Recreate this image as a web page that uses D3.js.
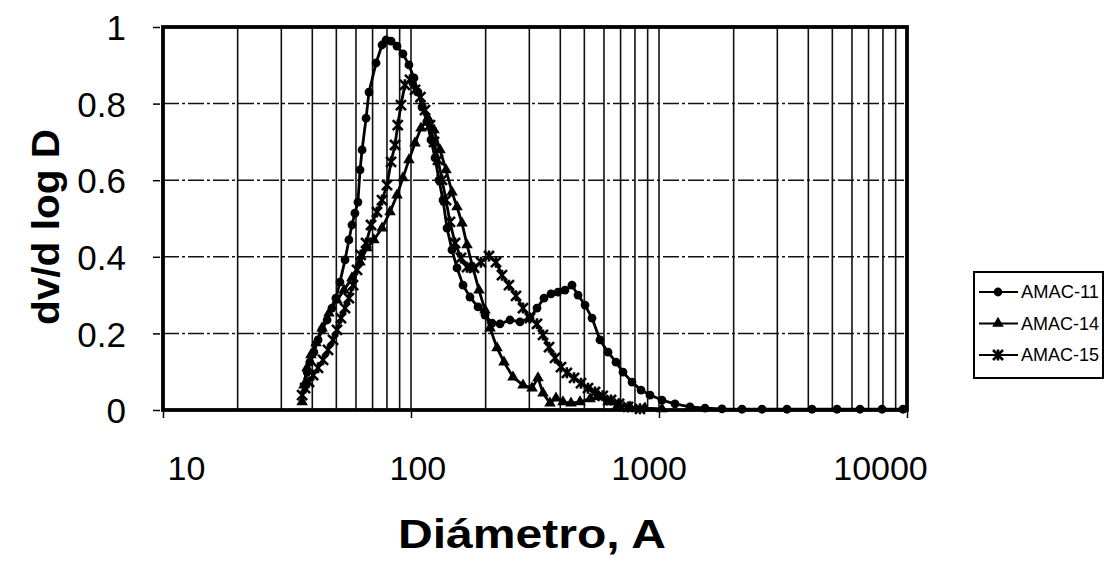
<!DOCTYPE html>
<html><head><meta charset="utf-8">
<script src="https://cdn.jsdelivr.net/npm/d3@7"></script>
<style>body{margin:0;background:#fff} svg{display:block}</style>
</head><body><svg id="c" width="1109" height="562"></svg>
<script>
// ---------- data ----------
const seriesNames = ["AMAC-11", "AMAC-14", "AMAC-15"];
const xTickValues = [10, 100, 1000, 10000];
const yTickValues = [0, 0.2, 0.4, 0.6, 0.8, 1];

const amac11D = [37.4,38.1,39.1,40.6,42.2,43.8,45.9,48.0,49.8,51.7,54.2,56.2,57.8,59.4,61.1,62.3,63.5,65.9,67.7,72.3,76.4,79.3,83.1,87.8,92.8,98.1,102.8,106.7,110.8,116.0,120.4,125.0,129.7,134.6,139.7,146.3,153.3,162.1,172.9,186.3,198.8,212.2,228.5,250.7,275.1,301.8,322.1,343.8,366.9,391.5,417.8,445.9,471.5,503.2,537.0,578.2,623.0,670.8,715.8,778.3,846.2,919.7,1028,1160,1334,1533,1795,2161,2602,3282,4140,5222,6464,7930,9636];
const amac11V = [0.065,0.099,0.125,0.151,0.183,0.209,0.235,0.266,0.292,0.334,0.392,0.444,0.483,0.514,0.543,0.627,0.679,0.762,0.830,0.906,0.953,0.966,0.963,0.950,0.930,0.901,0.867,0.830,0.791,0.752,0.705,0.658,0.600,0.548,0.475,0.418,0.371,0.326,0.295,0.269,0.248,0.227,0.225,0.235,0.230,0.240,0.266,0.292,0.303,0.308,0.313,0.326,0.300,0.274,0.240,0.183,0.151,0.125,0.099,0.073,0.052,0.039,0.026,0.016,0.008,0.005,0.003,0.002,0.002,0.002,0.002,0.002,0.002,0.002,0.002];

const amac14D = [36.4,37.0,38.1,39.5,41.4,43.8,46.7,50.3,53.7,57.8,62.3,66.5,70.9,76.4,82.3,87.8,92.8,98.1,103.8,109.7,117.1,123.8,130.9,138.4,146.3,153.3,160.6,168.2,177.8,188.0,198.8,208.3,222.3,237.1,257.8,282.9,307.5,325.1,340.6,363.5,384.3,410.1,441.7,480.3,527.2,573.0,623.0,683.4,764.0,878,1028];
const amac14V = [0.021,0.065,0.110,0.144,0.175,0.214,0.253,0.287,0.313,0.345,0.386,0.423,0.444,0.475,0.517,0.561,0.606,0.653,0.697,0.736,0.762,0.731,0.679,0.627,0.569,0.530,0.488,0.431,0.371,0.313,0.261,0.214,0.162,0.125,0.086,0.065,0.057,0.084,0.044,0.018,0.031,0.021,0.018,0.021,0.029,0.034,0.021,0.013,0.008,0.005,0.003];

const amac15D = [36.4,37.4,38.8,40.3,42.2,44.2,46.3,48.5,50.3,52.2,54.2,56.2,58.4,60.6,62.7,65.9,69.0,72.9,76.4,80.0,83.1,86.2,88.4,91.1,94.5,99.1,103.8,109.2,113.9,119.3,123.8,128.5,133.4,138.4,143.6,150.5,159.1,168.2,179.5,191.5,206.3,220.2,232.8,248.4,265.1,282.9,301.8,322.1,340.6,360.3,380.8,402.6,425.1,454.3,484.8,517.3,552.1,593.0,640.6,690.0,749.9,838];
const amac15V = [0.039,0.057,0.073,0.091,0.110,0.131,0.157,0.183,0.209,0.240,0.266,0.292,0.326,0.366,0.405,0.436,0.483,0.517,0.548,0.587,0.648,0.692,0.744,0.796,0.849,0.862,0.836,0.817,0.783,0.744,0.700,0.653,0.601,0.548,0.491,0.436,0.397,0.373,0.371,0.386,0.402,0.386,0.352,0.326,0.298,0.266,0.240,0.225,0.196,0.164,0.136,0.112,0.097,0.084,0.070,0.057,0.047,0.037,0.026,0.016,0.008,0.003];

// ---------- layout ----------
const svg = d3.select("#c");
const L = 163, R = 907, T = 27, B = 410;
const x = d3.scaleLog().domain([10, 10000]).range([L, R]);
const y = d3.scaleLinear().domain([0, 1]).range([B, T]);
// tick labels in the scanned original sit slightly inside the decade lines
const xLabel = d3.scalePoint().domain(xTickValues).range([186, 880]);
const font = "'Liberation Sans', Arial, sans-serif";

const series = [
  {name: seriesNames[0], d: amac11D, v: amac11V, marker: "circle"},
  {name: seriesNames[1], d: amac14D, v: amac14V, marker: "triangle"},
  {name: seriesNames[2], d: amac15D, v: amac15V, marker: "star"}
];

// grid
const g = svg.append("g");
const minorX = [];
for (let dec = 10; dec < 10000; dec *= 10) for (let k = 2; k <= 10; k++) minorX.push(dec * k);
g.selectAll("line.vx").data(minorX.filter(v => v < 10000)).enter().append("line")
  .attr("x1", d => x(d)).attr("x2", d => x(d)).attr("y1", T).attr("y2", B)
  .attr("stroke", "#111").attr("stroke-width", 1.6);
g.selectAll("line.hy").data(yTickValues.filter(v => v > 0 && v < 1)).enter().append("line")
  .attr("x1", L).attr("x2", R).attr("y1", d => y(d)).attr("y2", d => y(d))
  .attr("stroke", "#111").attr("stroke-width", 1.5).attr("stroke-dasharray", "16,3,3,3");

// y axis
const yAxis = d3.axisLeft(y).tickValues(yTickValues).tickSize(7).tickPadding(27)
  .tickFormat(d => d === 0 ? "0" : d === 1 ? "1" : d3.format(".1f")(d));
const ya = svg.append("g").attr("transform", `translate(${L - 3},0)`).call(yAxis);
ya.select(".domain").remove();
ya.selectAll("text").attr("font-family", font).attr("font-size", 35).attr("fill", "#000")
  .attr("dy", "0.36em");
ya.selectAll("line").attr("stroke", "#000").attr("stroke-width", 1.5);

// x axis: tick marks at decade lines
const xAxis = d3.axisBottom(x).tickValues(xTickValues).tickSize(6).tickFormat("");
const xa = svg.append("g").attr("transform", `translate(0,${B + 2})`).call(xAxis);
xa.select(".domain").remove();
xa.selectAll("line").attr("stroke", "#000").attr("stroke-width", 1.5);
// x tick labels
const xlAxis = d3.axisBottom(xLabel).tickSize(0).tickPadding(0).tickFormat(d3.format("d"));
const xl = svg.append("g").attr("transform", `translate(0,456)`).call(xlAxis);
xl.select(".domain").remove();
xl.selectAll("text").attr("font-family", font).attr("font-size", 34).attr("fill", "#000")
  .attr("dy", "0.71em");

// plot border
svg.append("rect").attr("x", L).attr("y", T).attr("width", R - L).attr("height", B - T)
  .attr("fill", "none").attr("stroke", "#000").attr("stroke-width", 3.8);

// markers
function drawMarker(sel, type) {
  if (type === "circle") {
    sel.append("circle").attr("r", 4.4).attr("fill", "#000");
  } else if (type === "triangle") {
    sel.append("path").attr("d", d3.symbol(d3.symbolTriangle, 58)()).attr("fill", "#000");
  } else {
    sel.append("path").attr("d", "M-5,-5L5,5M-5,5L5,-5M0,-5.5L0,5.5")
      .attr("stroke", "#000").attr("stroke-width", 2.6).attr("fill", "none");
  }
}

const line = d3.line().x(p => x(p[0])).y(p => y(p[1]));
series.forEach(s => {
  const pts = s.d.map((d, i) => [d, s.v[i]]);
  svg.append("path").attr("d", line(pts)).attr("fill", "none")
    .attr("stroke", "#000").attr("stroke-width", 2.8).attr("stroke-linejoin", "round");
  const m = svg.append("g").selectAll("g").data(pts).enter().append("g")
    .attr("transform", p => `translate(${x(p[0])},${y(p[1])})`);
  m.each(function () { drawMarker(d3.select(this), s.marker); });
});

// axis titles
svg.append("text").attr("x", 532).attr("y", 548).attr("text-anchor", "middle")
  .attr("font-family", font).attr("font-weight", "bold").attr("font-size", 40)
  .attr("textLength", 268).attr("lengthAdjust", "spacingAndGlyphs")
  .text("Diámetro, A");
svg.append("text").attr("transform", "translate(59,227) rotate(-90)").attr("text-anchor", "middle")
  .attr("font-family", font).attr("font-weight", "bold").attr("font-size", 38)
  .attr("textLength", 196).attr("lengthAdjust", "spacingAndGlyphs")
  .text("dv/d log D");

// legend
const lg = svg.append("g").attr("transform", "translate(974,272)");
lg.append("rect").attr("x", 0).attr("y", 0).attr("width", 129).attr("height", 106)
  .attr("fill", "#fff").attr("stroke", "#000").attr("stroke-width", 2);
const ly = d3.scalePoint().domain(seriesNames).range([20, 83]);
series.forEach(s => {
  const row = lg.append("g").attr("transform", `translate(0,${ly(s.name)})`);
  row.append("line").attr("x1", 5).attr("x2", 44).attr("stroke", "#000").attr("stroke-width", 2.2);
  drawMarker(row.append("g").attr("transform", "translate(24,0)"), s.marker);
  row.append("text").attr("x", 47).attr("y", 6).attr("font-family", font).attr("font-size", 17.5)
    .attr("textLength", 78).attr("lengthAdjust", "spacingAndGlyphs")
    .text(s.name);
});
</script>
</body></html>
